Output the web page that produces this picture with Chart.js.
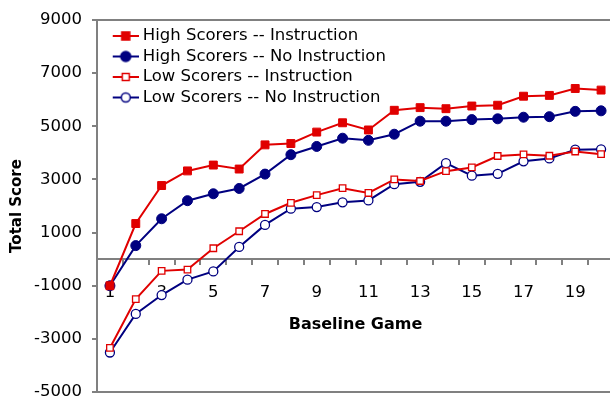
<!DOCTYPE html>
<html>
<head>
<meta charset="utf-8">
<script src="https://cdn.jsdelivr.net/npm/chart.js@4"></script>
<style>
  body { margin:0; overflow:hidden; background:#fff; }
  #wrap { width:626px; height:412px; }
</style>
</head>
<body>
<div id="wrap"><canvas id="myChart"></canvas></div>
<script>
// data
const games = ["1","2","3","4","5","6","7","8","9","10","11","12","13","14","15","16","17","18","19","20"];
const highInstr   = [-1000, 1340, 2770, 3320, 3540, 3390, 4300, 4350, 4780, 5130, 4860, 5600, 5700, 5660, 5760, 5790, 6130, 6160, 6420, 6360];
const highNoInstr = [-1000, 510, 1520, 2200, 2460, 2660, 3200, 3930, 4240, 4550, 4470, 4700, 5190, 5190, 5250, 5280, 5340, 5360, 5560, 5580];
const lowInstr    = [-3340, -1500, -440, -390, 410, 1050, 1700, 2120, 2410, 2670, 2490, 3000, 2940, 3310, 3450, 3880, 3940, 3890, 4050, 3950];
const lowNoInstr  = [-3510, -2060, -1350, -770, -460, 460, 1290, 1900, 1960, 2140, 2210, 2820, 2910, 3610, 3140, 3210, 3680, 3790, 4120, 4130];
const seriesNames = ["High Scorers -- Instruction", "High Scorers -- No Instruction", "Low Scorers -- Instruction", "Low Scorers -- No Instruction"];

const red = '#e00000';
const navy = '#000080';
const axisGrey = '#808080';
const font = "'DejaVu Sans', Verdana, sans-serif";

// small picture for the legend: line with marker in the middle
function legendIcon(color, shape, filled) {
  const c = document.createElement('canvas');
  c.width = 42; c.height = 14;
  const g = c.getContext('2d');
  g.strokeStyle = color; g.lineWidth = 2;
  g.beginPath(); g.moveTo(16, 7); g.lineTo(42, 7); g.stroke();
  g.fillStyle = filled ? color : '#fff';
  g.lineWidth = 1.5;
  g.beginPath();
  if (shape == 'rect') {
    const s = filled ? 8 : 7;
    g.rect(29 - s/2, 7 - s/2, s, s);
  } else {
    g.arc(29, 7, filled ? 5 : 4.5, 0, Math.PI*2);
  }
  g.fill(); g.stroke();
  return c;
}
const icons = [
  legendIcon(red, 'rect', true),
  legendIcon(navy, 'circle', true),
  legendIcon(red, 'rect', false),
  legendIcon(navy, 'circle', false)
];

const plotFrame = {
  id: 'plotFrame',
  beforeDatasetsDraw(chart) {
    const a = chart.chartArea, ctx = chart.ctx;
    ctx.save();
    ctx.strokeStyle = axisGrey; ctx.lineWidth = 2;
    ctx.beginPath();
    ctx.moveTo(a.left, a.top); ctx.lineTo(a.right, a.top); ctx.lineTo(a.right, a.bottom); ctx.lineTo(a.left, a.bottom);
    ctx.stroke();
    ctx.restore();
  }
};

const ctx = document.getElementById('myChart').getContext('2d');
const myChart = new Chart(ctx, {
  type: 'line',
  data: {
    labels: games,
    datasets: [
      { label: seriesNames[0], data: highInstr, borderColor: red, backgroundColor: red,
        pointStyle: 'rect', pointRadius: 5.6, pointBorderWidth: 1, borderWidth: 2, tension: 0 },
      { label: seriesNames[1], data: highNoInstr, borderColor: navy, backgroundColor: navy,
        pointStyle: 'circle', pointRadius: 5, pointBorderWidth: 1, borderWidth: 2, tension: 0 },
      { label: seriesNames[2], data: lowInstr, borderColor: red, backgroundColor: '#fff',
        pointStyle: 'rect', pointRadius: 4.6, pointBorderWidth: 1.3, borderWidth: 2, tension: 0 },
      { label: seriesNames[3], data: lowNoInstr, borderColor: navy, backgroundColor: '#fff',
        pointStyle: 'circle', pointRadius: 4.5, pointBorderWidth: 1.3, borderWidth: 2, tension: 0 }
    ]
  },
  options: {
    responsive: true,
    maintainAspectRatio: false,
    animation: false,
    layout: { padding: { left: 0, top: 18, right: 12, bottom: 10 } },
    plugins: {
      tooltip: { enabled: false },
      legend: {
        position: 'chartArea',
        align: 'start',
        title: { display: true, text: '', padding: { top: 22.5, bottom: 0 }, font: { size: 1 } },
        labels: {
          usePointStyle: true,
          pointStyleWidth: 33.5,
          padding: 4,
          color: '#000',
          font: { family: font, size: 16.5 },
          generateLabels(chart) {
            const items = Chart.defaults.plugins.legend.labels.generateLabels(chart);
            items.forEach((it, i) => { it.pointStyle = icons[i]; });
            return items;
          }
        }
      }
    },
    scales: {
      x: {
        type: 'category',
        offset: true,
        position: { y: 0 },
        grid: { offset: true, drawOnChartArea: false, tickLength: 5, color: axisGrey, lineWidth: 2 },
        border: { display: true, color: axisGrey, width: 2 },
        ticks: {
          autoSkip: false, maxRotation: 0, padding: 19, color: '#000',
          font: { family: font, size: 16.5 },
          callback: function(val, i) { return i % 2 == 0 ? games[i] : ''; }
        },
        title: { display: true, text: 'Baseline Game', color: '#000',
          font: { family: font, size: 16, weight: 'bold' }, padding: { top: -7, bottom: 0 } }
      },
      y: {
        min: -5000, max: 9000,
        afterFit: function(scale) { scale.width = 97; },
        grid: { drawOnChartArea: false, tickLength: 5, color: axisGrey, lineWidth: 2 },
        border: { display: true, color: axisGrey, width: 2 },
        ticks: {
          stepSize: 2000, padding: 10, color: '#000',
          font: { family: font, size: 16.5 },
          callback: function(v) { return String(v); }
        },
        title: { display: true, text: 'Total Score', color: '#000',
          font: { family: font, size: 15, weight: 'bold' }, padding: { top: 8.5, bottom: 0 } }
      }
    }
  },
  plugins: [plotFrame]
});
</script>
</body>
</html>
